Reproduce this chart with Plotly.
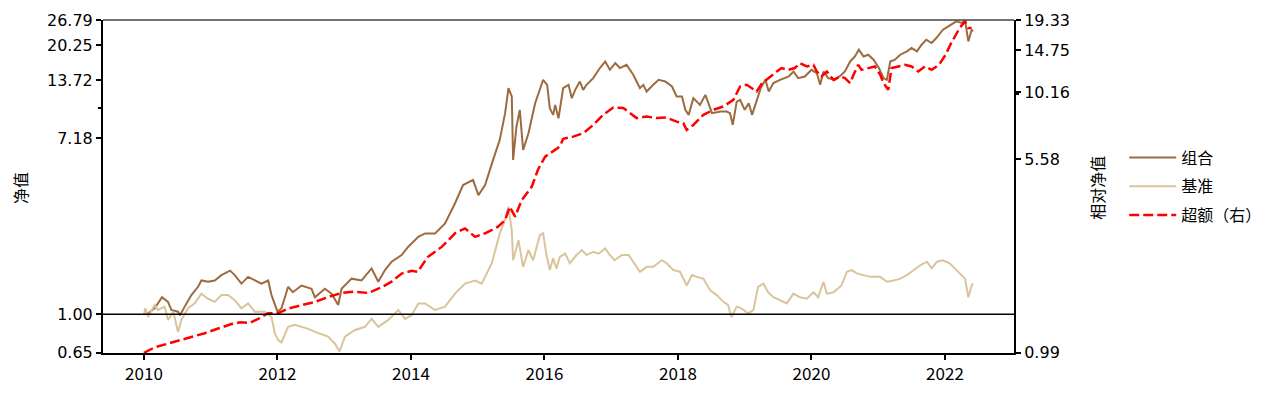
import plotly.graph_objects as go
import math

# ---------------- data ----------------
combo_years = [2010.00, 2010.06, 2010.16, 2010.27, 2010.36, 2010.41, 2010.51, 2010.54, 2010.61, 2010.71,
               2010.81, 2010.86, 2010.96, 2011.06, 2011.16, 2011.29, 2011.36, 2011.46, 2011.56, 2011.66,
               2011.76, 2011.86, 2011.91, 2012.00, 2012.06, 2012.16, 2012.23, 2012.36, 2012.51, 2012.56,
               2012.71, 2012.81, 2012.91, 2012.96, 2013.11, 2013.26, 2013.41, 2013.51, 2013.61, 2013.71,
               2013.86, 2013.96, 2014.11, 2014.21, 2014.36, 2014.51, 2014.66, 2014.78, 2014.93, 2015.01,
               2015.11, 2015.23, 2015.33, 2015.41, 2015.46, 2015.51, 2015.53, 2015.58, 2015.63, 2015.68,
               2015.76, 2015.86, 2015.93, 2015.98, 2016.04, 2016.08, 2016.13, 2016.16, 2016.21, 2016.28,
               2016.36, 2016.41, 2016.46, 2016.53, 2016.58, 2016.63, 2016.73, 2016.83, 2016.91, 2016.98,
               2017.06, 2017.13, 2017.23, 2017.33, 2017.38, 2017.43, 2017.48, 2017.53, 2017.63, 2017.71,
               2017.81, 2017.91, 2017.98, 2018.06, 2018.11, 2018.16, 2018.23, 2018.33, 2018.41, 2018.46,
               2018.51, 2018.64, 2018.73, 2018.78, 2018.82, 2018.88, 2018.93, 2019.00, 2019.06, 2019.11,
               2019.16, 2019.24, 2019.31, 2019.36, 2019.43, 2019.53, 2019.66, 2019.73, 2019.80, 2019.90,
               2020.00, 2020.08, 2020.13, 2020.18, 2020.25, 2020.35, 2020.45, 2020.50, 2020.58, 2020.65,
               2020.71, 2020.78, 2020.85, 2020.93, 2021.01, 2021.08, 2021.13, 2021.18, 2021.25, 2021.33,
               2021.43, 2021.50, 2021.58, 2021.65, 2021.72, 2021.80, 2021.87, 2021.97, 2022.05, 2022.12,
               2022.17, 2022.25, 2022.30, 2022.35, 2022.40, 2022.42]
combo_values = [1.00, 1.01, 1.07, 1.21, 1.15, 1.05, 1.03, 0.99, 1.09, 1.24,
                1.36, 1.46, 1.44, 1.46, 1.55, 1.63, 1.55, 1.41, 1.52, 1.46,
                1.41, 1.46, 1.24, 1.03, 1.07, 1.36, 1.28, 1.38, 1.33, 1.21,
                1.33, 1.26, 1.11, 1.33, 1.49, 1.46, 1.67, 1.44, 1.64, 1.80,
                1.94, 2.13, 2.38, 2.47, 2.47, 2.76, 3.46, 4.24, 4.49, 3.79,
                4.24, 5.62, 7.03, 9.47, 12.53, 11.41, 5.62, 8.15, 9.83, 6.28,
                7.57, 10.59, 12.53, 13.75, 13.00, 10.02, 9.29, 10.39, 8.95, 12.53,
                13.00, 11.20, 12.29, 13.49, 12.29, 13.00, 14.01, 15.68, 16.88, 15.38,
                16.58, 15.68, 16.27, 14.54, 13.49, 12.53, 13.00, 12.06, 13.00, 13.75,
                13.49, 12.76, 11.41, 11.41, 9.83, 9.29, 11.20, 10.39, 11.62, 10.59,
                9.47, 9.64, 9.64, 9.47, 8.31, 10.78, 10.99, 9.83, 10.59, 9.29,
                10.39, 12.53, 13.75, 12.06, 13.25, 13.75, 14.27, 15.09, 14.01, 14.27,
                15.38, 14.82, 13.00, 15.09, 14.01, 13.75, 14.54, 15.09, 16.88, 17.85,
                19.25, 17.85, 18.20, 17.21, 15.68, 14.01, 13.75, 16.88, 17.21, 18.20,
                18.88, 19.61, 18.88, 20.35, 21.53, 20.74, 21.93, 24.08, 24.98, 25.95,
                26.42, 25.95, 26.70, 21.12, 24.08, 23.62]

bench_years = [2010.00, 2010.02, 2010.06, 2010.11, 2010.16, 2010.21, 2010.31, 2010.36, 2010.44, 2010.51,
               2010.56, 2010.66, 2010.76, 2010.86, 2010.96, 2011.06, 2011.16, 2011.26, 2011.36, 2011.46,
               2011.56, 2011.66, 2011.81, 2011.91, 2011.96, 2012.01, 2012.06, 2012.16, 2012.26, 2012.46,
               2012.61, 2012.76, 2012.86, 2012.93, 2013.01, 2013.16, 2013.31, 2013.41, 2013.51, 2013.66,
               2013.81, 2013.91, 2014.01, 2014.11, 2014.21, 2014.36, 2014.51, 2014.66, 2014.81, 2014.96,
               2015.06, 2015.21, 2015.33, 2015.41, 2015.46, 2015.51, 2015.53, 2015.61, 2015.68, 2015.76,
               2015.83, 2015.93, 2015.98, 2016.03, 2016.08, 2016.13, 2016.18, 2016.23, 2016.31, 2016.38,
               2016.48, 2016.56, 2016.63, 2016.73, 2016.81, 2016.91, 2016.98, 2017.05, 2017.16, 2017.26,
               2017.33, 2017.43, 2017.53, 2017.63, 2017.76, 2017.83, 2017.93, 2018.03, 2018.13, 2018.21,
               2018.28, 2018.38, 2018.48, 2018.58, 2018.68, 2018.75, 2018.80, 2018.88, 2018.95, 2019.05,
               2019.13, 2019.20, 2019.28, 2019.35, 2019.43, 2019.53, 2019.63, 2019.73, 2019.83, 2019.93,
               2020.03, 2020.10, 2020.18, 2020.23, 2020.33, 2020.45, 2020.53, 2020.60, 2020.68, 2020.78,
               2020.88, 2021.03, 2021.13, 2021.23, 2021.33, 2021.43, 2021.53, 2021.63, 2021.73, 2021.80,
               2021.88, 2021.97, 2022.07, 2022.15, 2022.22, 2022.30, 2022.35, 2022.40, 2022.42]
bench_values = [1.00, 1.07, 0.97, 1.03, 1.11, 1.05, 1.09, 0.94, 1.03, 0.82,
                0.94, 1.07, 1.13, 1.26, 1.19, 1.15, 1.24, 1.24, 1.17, 1.07,
                1.13, 1.03, 1.03, 0.97, 0.81, 0.75, 0.73, 0.87, 0.89, 0.85,
                0.81, 0.78, 0.72, 0.66, 0.78, 0.84, 0.87, 0.95, 0.87, 0.94,
                1.05, 0.95, 0.99, 1.13, 1.13, 1.05, 1.09, 1.26, 1.41, 1.46,
                1.41, 1.77, 2.47, 2.87, 3.33, 2.56, 1.83, 2.29, 1.70, 2.05,
                1.83, 2.42, 2.47, 1.94, 1.64, 1.87, 1.67, 1.90, 1.97, 1.77,
                1.94, 2.05, 1.94, 2.01, 1.97, 2.09, 1.94, 1.83, 1.94, 1.94,
                1.80, 1.61, 1.70, 1.70, 1.83, 1.77, 1.64, 1.61, 1.38, 1.55,
                1.52, 1.49, 1.31, 1.24, 1.15, 1.11, 0.97, 1.09, 1.07, 1.01,
                1.05, 1.36, 1.41, 1.28, 1.21, 1.17, 1.13, 1.26, 1.21, 1.19,
                1.28, 1.21, 1.44, 1.26, 1.28, 1.38, 1.61, 1.64, 1.58, 1.55,
                1.52, 1.52, 1.44, 1.46, 1.49, 1.55, 1.64, 1.73, 1.80, 1.67,
                1.80, 1.83, 1.77, 1.67, 1.58, 1.49, 1.21, 1.38, 1.41]

excess_years = [2010.00, 2010.16, 2010.36, 2010.56, 2010.76, 2010.91, 2011.11, 2011.31, 2011.44, 2011.59,
                2011.71, 2011.86, 2012.01, 2012.16, 2012.36, 2012.56, 2012.76, 2012.96, 2013.16, 2013.36,
                2013.56, 2013.71, 2013.86, 2014.01, 2014.10, 2014.25, 2014.46, 2014.66, 2014.81, 2014.96,
                2015.11, 2015.30, 2015.41, 2015.48, 2015.56, 2015.66, 2015.81, 2015.90, 2016.01, 2016.16,
                2016.23, 2016.28, 2016.43, 2016.58, 2016.73, 2016.88, 2017.03, 2017.18, 2017.28, 2017.38,
                2017.53, 2017.68, 2017.83, 2017.98, 2018.08, 2018.13, 2018.23, 2018.38, 2018.53, 2018.68,
                2018.83, 2018.93, 2019.03, 2019.11, 2019.18, 2019.26, 2019.36, 2019.46, 2019.55, 2019.65,
                2019.75, 2019.83, 2019.93, 2020.03, 2020.08, 2020.15, 2020.23, 2020.33, 2020.43, 2020.50,
                2020.58, 2020.63, 2020.70, 2020.75, 2020.85, 2020.95, 2021.03, 2021.08, 2021.15, 2021.20,
                2021.30, 2021.40, 2021.50, 2021.60, 2021.70, 2021.80, 2021.91, 2022.01, 2022.08, 2022.16,
                2022.22, 2022.30, 2022.35, 2022.40]
excess_values = [0.99, 1.04, 1.075, 1.11, 1.15, 1.18, 1.23, 1.28, 1.30, 1.295,
                 1.34, 1.41, 1.41, 1.47, 1.515, 1.56, 1.63, 1.69, 1.71, 1.69,
                 1.78, 1.87, 2.01, 2.06, 2.04, 2.33, 2.55, 2.88, 3.01, 2.79,
                 2.88, 3.05, 3.24, 3.65, 3.34, 3.88, 4.37, 5.07, 5.71, 6.07,
                 6.25, 6.70, 6.83, 7.04, 7.58, 8.30, 8.86, 8.82, 8.42, 8.06,
                 8.17, 8.06, 8.10, 7.81, 7.70, 7.25, 7.58, 8.30, 8.67, 8.94,
                 9.48, 10.69, 10.85, 10.53, 10.22, 11.02, 11.52, 12.05, 12.60, 12.40,
                 12.60, 13.17, 12.78, 12.97, 12.22, 11.69, 12.22, 11.34, 11.69, 11.52,
                 11.02, 11.87, 12.97, 12.40, 12.60, 12.78, 11.87, 11.02, 10.37, 12.60,
                 12.78, 12.97, 12.78, 12.22, 12.78, 12.40, 12.97, 14.20, 15.52, 16.98,
                 18.03, 19.13, 18.03, 18.03]

series_names = ["组合", "基准", "超额（右）"]
left_ticks = [0.65, 1.00, 7.18, 13.72, 20.25, 26.79]
right_ticks = [0.99, 5.58, 10.16, 14.75, 19.33]
x_ticks = [2010, 2012, 2014, 2016, 2018, 2020, 2022]

# ---------------- style ----------------
FONT = "Noto Sans CJK SC"
NUM_FONT = "DejaVu Sans"
BROWN = "#9C6B3F"
BEIGE = "#D9C49C"
RED = "#FF0000"
EPS = 0.0006  # tiny range padding so the end ticks are not dropped

fig = go.Figure()
fig.add_trace(go.Scatter(x=combo_years, y=combo_values, mode="lines", name=series_names[0],
                         line=dict(color=BROWN, width=2), legendgroup="a", yaxis="y"))
fig.add_trace(go.Scatter(x=bench_years, y=bench_values, mode="lines", name=series_names[1],
                         line=dict(color=BEIGE, width=2), legendgroup="b", yaxis="y"))
fig.add_trace(go.Scatter(x=excess_years, y=excess_values, mode="lines", name=series_names[2],
                         line=dict(color=RED, width=2.5, dash="10px,4px"), legendgroup="c", yaxis="y2"))

axis_common = dict(showgrid=False, zeroline=False, showline=True, linecolor="black", linewidth=2,
                   ticks="outside", ticklen=5, tickwidth=1.5, tickcolor="black", automargin=False,
                   ticklabeloverflow="allow")
yfont = dict(size=16, family=NUM_FONT, color="black")

fig.update_layout(
    width=1265, height=380,
    margin=dict(l=95, r=259, t=12, b=35, autoexpand=False),
    paper_bgcolor="white", plot_bgcolor="white",
    font=dict(family=FONT, size=16, color="black"),
    showlegend=True,
    legend=dict(x=1.121, y=0.5, xanchor="left", yanchor="middle", bgcolor="rgba(0,0,0,0)",
                font=dict(size=16, family=FONT), tracegroupgap=5, itemwidth=47),
    xaxis=dict(range=[2009.386, 2023.034], tickvals=x_ticks, ticktext=[str(v) for v in x_ticks],
               tickfont=dict(size=17, family=FONT, color="black"), **axis_common),
    yaxis=dict(type="log", range=[math.log10(0.65) - EPS, math.log10(26.79) + EPS],
               tickvals=left_ticks, ticktext=["%.2f" % v for v in left_ticks],
               minor=dict(tickvals=[10], ticks="outside", ticklen=3, tickcolor="black", showgrid=False),
               tickfont=yfont, **axis_common),
    yaxis2=dict(type="log", range=[math.log10(0.99) - EPS, math.log10(19.33) + EPS],
                overlaying="y", side="right",
                anchor="x", tickvals=right_ticks, ticktext=["%.2f" % v for v in right_ticks],
                minor=dict(tickvals=[10], ticks="outside", ticklen=3, tickcolor="black", showgrid=False),
                tickfont=yfont, **axis_common),
    shapes=[
        dict(type="line", xref="paper", x0=0, x1=1, yref="y", y0=1, y1=1,
             line=dict(color="black", width=1.5), layer="above"),
        dict(type="line", xref="paper", x0=0, x1=1, yref="paper", y0=1, y1=1,
             line=dict(color="#444444", width=1.5), layer="above"),
    ],
    annotations=[
        dict(text="净值", xref="paper", yref="paper", x=-0.091, y=0.496, xanchor="center",
             yanchor="middle", textangle=-90, showarrow=False, font=dict(size=16, family=FONT)),
        dict(text="相对净值", xref="paper", yref="paper", x=1.091, y=0.496, xanchor="center",
             yanchor="middle", textangle=-90, showarrow=False, font=dict(size=16, family=FONT)),
    ],
)

fig.write_html("out.html")
